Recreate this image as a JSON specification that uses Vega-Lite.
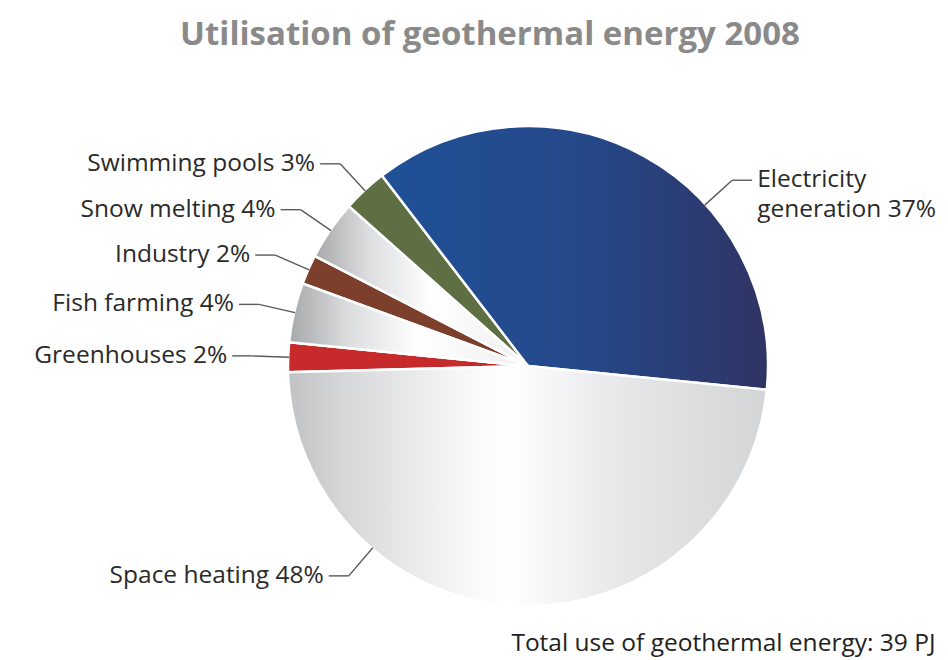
{
  "$schema": "https://vega.github.io/schema/vega-lite/v6.json",
  "autosize": "none",
  "width": 814,
  "height": 512,
  "padding": {"left": 121, "top": 110, "right": 13, "bottom": 38},
  "background": "white",
  "config": {"view": {"stroke": null}, "font": "Open Sans"},
  "title": {
    "text": "Utilisation of geothermal energy 2008",
    "frame": "group",
    "anchor": "middle",
    "dx": -38,
    "offset": 32,
    "baseline": "alphabetic",
    "fontSize": 33,
    "fontWeight": "bold",
    "font": "Open Sans",
    "color": "#8a8a8a"
  },
  "data": {
    "values": [
      {"idx": 1, "category": "Electricity generation", "value": 37, "label": "Electricity\ngeneration 37%"},
      {"idx": 2, "category": "Space heating", "value": 48, "label": "Space heating 48%"},
      {"idx": 3, "category": "Greenhouses", "value": 2, "label": "Greenhouses 2%"},
      {"idx": 4, "category": "Fish farming", "value": 4, "label": "Fish farming 4%"},
      {"idx": 5, "category": "Industry", "value": 2, "label": "Industry 2%"},
      {"idx": 6, "category": "Snow melting", "value": 4, "label": "Snow melting 4%"},
      {"idx": 7, "category": "Swimming pools", "value": 3, "label": "Swimming pools 3%"}
    ]
  },
  "transform": [
    {"window": [{"op": "sum", "field": "value", "as": "cum"}], "sort": [{"field": "idx"}], "frame": [null, 0]},
    {"calculate": "datum.cum - datum.value", "as": "start"},
    {"calculate": "datum.cum", "as": "end"},
    {"calculate": "-0.6545 + 2 * PI * datum.start / 100", "as": "a0"},
    {"calculate": "-0.6545 + 2 * PI * datum.end / 100", "as": "a1"},
    {"calculate": "datum.a1 - min((datum.a1 - datum.a0) / 2, 0.8378)", "as": "anc"},
    {"calculate": "sin(datum.anc) < 0 ? -1 : 1", "as": "side"},
    {"calculate": "239 * sin(datum.anc)", "as": "px1"},
    {"calculate": "239 * cos(datum.anc)", "as": "py1"},
    {"calculate": "276 * sin(datum.anc)", "as": "px2"},
    {"calculate": "276 * cos(datum.anc)", "as": "py2"},
    {"calculate": "datum.px2 + datum.side * 20", "as": "px3"},
    {"calculate": "datum.px3 + datum.side * 5", "as": "tx"}
  ],
  "layer": [
    {
      "mark": {"type": "arc", "outerRadius": 240, "stroke": "white", "strokeWidth": 2.5},
      "encoding": {
        "theta": {"field": "start", "type": "quantitative", "stack": null, "scale": {"domain": [0, 100], "range": [-0.6545, 5.6287]}},
        "theta2": {"field": "end"},
        "color": {
          "field": "category", "type": "nominal", "legend": null,
          "scale": {
            "domain": ["Electricity generation", "Space heating", "Greenhouses", "Fish farming", "Industry", "Snow melting", "Swimming pools"],
            "range": ["#26488c", "#e4e5e7", "#c62a2a", "#dcdddf", "#7b3f2b", "#dcdddf", "#5e6f43"]
          }
        }
      }
    },
    {
      "transform": [{"filter": "datum.category === 'Electricity generation'"}],
      "mark": {"type": "arc", "outerRadius": 240, "stroke": "white", "strokeWidth": 2.5,
        "fill": {"gradient": "linear", "x1": 0, "y1": 0, "x2": 1, "y2": 0, "stops": [
          {"offset": 0, "color": "#1f5096"}, {"offset": 0.5, "color": "#25498b"}, {"offset": 1, "color": "#2f3463"}]}},
      "encoding": {
        "theta": {"field": "start", "type": "quantitative", "stack": null},
        "theta2": {"field": "end"}
      }
    },
    {
      "transform": [{"filter": "datum.category === 'Space heating'"}],
      "mark": {"type": "arc", "outerRadius": 240, "stroke": "white", "strokeWidth": 2.5,
        "fill": {"gradient": "linear", "x1": 0, "y1": 0, "x2": 1, "y2": 0, "stops": [
          {"offset": 0, "color": "#c0c2c4"}, {"offset": 0.12, "color": "#d6d7d9"}, {"offset": 0.36, "color": "#f7f7f7"},
          {"offset": 0.46, "color": "#ffffff"}, {"offset": 0.7, "color": "#e6e7e9"}, {"offset": 1, "color": "#d3d5d7"}]}},
      "encoding": {
        "theta": {"field": "start", "type": "quantitative", "stack": null},
        "theta2": {"field": "end"}
      }
    },
    {
      "transform": [{"filter": "datum.category === 'Fish farming' || datum.category === 'Snow melting'"}],
      "mark": {"type": "arc", "outerRadius": 240, "stroke": "white", "strokeWidth": 2.5,
        "fill": {"gradient": "linear", "x1": 0, "y1": 0, "x2": 1, "y2": 0, "stops": [
          {"offset": 0, "color": "#a6a8aa"}, {"offset": 0.25, "color": "#dcdddf"}, {"offset": 0.55, "color": "#ffffff"},
          {"offset": 1, "color": "#eeeeef"}]}},
      "encoding": {
        "theta": {"field": "start", "type": "quantitative", "stack": null},
        "theta2": {"field": "end"}
      }
    },
    {
      "mark": {"type": "rule", "color": "#5a5a5a", "strokeWidth": 1.4},
      "encoding": {
        "x": {"field": "px1", "type": "quantitative", "scale": {"domain": [-407, 407], "nice": false, "zero": false},
          "axis": {"title": "Total use of geothermal energy: 39 PJ", "labels": false, "ticks": false, "domain": false, "grid": false,
            "titleAnchor": "end", "titleAlign": "right", "titleBaseline": "alphabetic", "titlePadding": 28,
            "titleFontSize": 24.5, "titleFontWeight": "normal", "titleFont": "Open Sans", "titleColor": "#222"}},
        "y": {"field": "py1", "type": "quantitative", "scale": {"domain": [-256, 256], "nice": false, "zero": false}, "axis": null},
        "x2": {"field": "px2"},
        "y2": {"field": "py2"}
      }
    },
    {
      "mark": {"type": "rule", "color": "#5a5a5a", "strokeWidth": 1.4},
      "encoding": {
        "x": {"field": "px2", "type": "quantitative"},
        "y": {"field": "py2", "type": "quantitative"},
        "x2": {"field": "px3"},
        "y2": {"field": "py2"}
      }
    },
    {
      "transform": [{"filter": "datum.side < 0"}],
      "mark": {"type": "text", "align": "right", "baseline": "middle", "fontSize": 24.5, "font": "Open Sans", "color": "#2a2a2a", "lineBreak": "\n", "lineHeight": 30},
      "encoding": {
        "x": {"field": "tx", "type": "quantitative"},
        "y": {"field": "py2", "type": "quantitative"},
        "text": {"field": "label"}
      }
    },
    {
      "transform": [{"filter": "datum.side > 0"}],
      "mark": {"type": "text", "align": "left", "baseline": "middle", "fontSize": 24.5, "font": "Open Sans", "color": "#2a2a2a", "lineBreak": "\n", "lineHeight": 30},
      "encoding": {
        "x": {"field": "tx", "type": "quantitative"},
        "y": {"field": "py2", "type": "quantitative"},
        "text": {"field": "label"}
      }
    }
  ]
}
